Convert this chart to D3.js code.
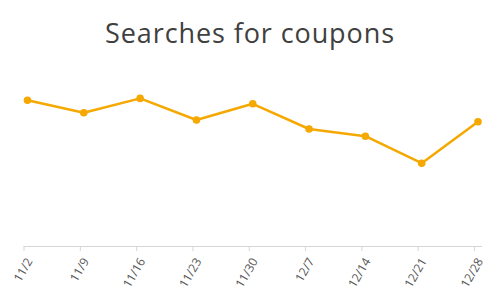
<!DOCTYPE html>
<html>
<head>
<meta charset="utf-8">
<script src="https://cdn.jsdelivr.net/npm/d3@7"></script>
<style>
  body { margin: 0; background: #fff; }
  svg { display: block; }
</style>
</head>
<body>
<script>
(function() {

// weekly search interest
var weeks = ["11/2", "11/9", "11/16", "11/23", "11/30", "12/7", "12/14", "12/21", "12/28"];
var searches = [81, 74, 82, 70, 79, 65, 61, 46, 69];
var title = "Searches for coupons";

var width = 500,
    height = 301;

var svg = d3.select("body").append("svg")
    .attr("width", width)
    .attr("height", height);

// title
svg.append("text")
    .attr("x", 250)
    .attr("y", 43)
    .attr("text-anchor", "middle")
    .attr("font-family", "'Open Sans', sans-serif")
    .attr("font-size", "27px")
    .attr("letter-spacing", "0.9px")
    .attr("fill", "#404040")
    .text(title);

var x = d3.scalePoint()
    .domain(weeks)
    .range([23.5, 474]);

var y = d3.scaleLinear()
    .domain([0, 100])
    .range([246, 66]);

// x axis
var axis = svg.append("g")
    .attr("transform", "translate(0,246)")
    .call(d3.axisBottom(x).tickSize(5).tickSizeOuter(0));

axis.select(".domain")
    .attr("d", "M" + x.range()[0] + ",0.5H482")
    .attr("stroke", "#d6d6d6");

axis.selectAll(".tick line")
    .attr("stroke", "#d6d6d6");

axis.selectAll(".tick text")
    .attr("font-family", "'Open Sans', sans-serif")
    .attr("font-size", "12px")
    .attr("fill", "#555")
    .attr("text-anchor", "end")
    .attr("dy", null)
    .attr("transform", "translate(9,15) rotate(-60)")
    .attr("y", 0);

// line + points, drawn slightly right of the ticks like the original
var plot = svg.append("g")
    .attr("transform", "translate(4,0)");

var line = d3.line()
    .x(function(d, i) { return x(weeks[i]); })
    .y(function(d) { return y(d); });

plot.append("path")
    .datum(searches)
    .attr("d", line)
    .attr("fill", "none")
    .attr("stroke", "#f5a800")
    .attr("stroke-width", 2.5)
    .attr("stroke-linejoin", "round");

plot.selectAll("circle")
    .data(searches)
    .enter()
    .append("circle")
    .attr("cx", function(d, i) { return x(weeks[i]); })
    .attr("cy", function(d) { return y(d); })
    .attr("r", 3.8)
    .attr("fill", "#f5a800");

})();
</script>
</body>
</html>
